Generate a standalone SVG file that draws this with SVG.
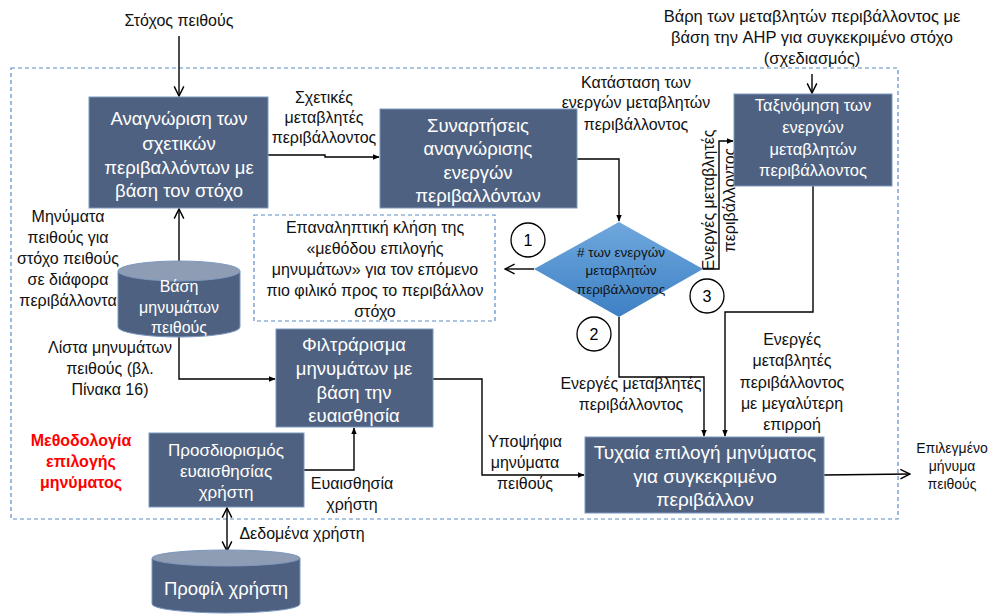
<svg xmlns="http://www.w3.org/2000/svg" width="990" height="615" viewBox="0 0 990 615">
  <style>
    text { font-family: "Liberation Sans", "Noto Sans", sans-serif; text-anchor: middle; }
    .lbl { font-size: 16px; fill: #111; }
    .box { fill: #4f6180; stroke: #7d98c0; stroke-width: 1; }
    .wt { fill: #ffffff; }
    .big { font-size: 18.5px; }
    .mid { font-size: 16.5px; }
    .wire { fill: none; stroke: #000; stroke-width: 1.4; }
    .dash { fill: none; stroke: #5b8dc4; stroke-width: 1.2; stroke-dasharray: 4 3; }
    .circ { fill: #fff; stroke: #000; stroke-width: 1.3; }
    .num { font-size: 16px; fill: #000; }
    .red { fill: #ff0000; font-weight: bold; font-size: 16px; }
  </style>
  <defs>
    <marker id="ah" viewBox="0 0 10 10" refX="9" refY="5" markerWidth="7" markerHeight="7" orient="auto-start-reverse" markerUnits="userSpaceOnUse">
      <path d="M0,1 L10,5 L0,9 Z" fill="#000"/>
    </marker>
    <marker id="open" viewBox="0 0 10 10" refX="9" refY="5" markerWidth="12" markerHeight="12" orient="auto-start-reverse" markerUnits="userSpaceOnUse">
      <path d="M1,1 L9,5 L1,9" fill="none" stroke="#000" stroke-width="1.2"/>
    </marker>
    <linearGradient id="dg" x1="0" y1="0" x2="0" y2="1">
      <stop offset="0" stop-color="#6fa8dd"/>
      <stop offset="1" stop-color="#3d80c4"/>
    </linearGradient>
  </defs>

  <!-- outer method boundary -->
  <rect class="dash" x="11" y="68" width="887" height="451"/>

  <!-- connectors -->
  <g id="connectors">
    <path class="wire" d="M179,36 V96" marker-end="url(#open)"/>
    <path class="wire" d="M812,74 V93" marker-end="url(#open)"/>
    <path class="wire" d="M268,155 H325 V157 H379" marker-end="url(#ah)"/>
    <path class="wire" d="M577,159 H619 V221" marker-end="url(#ah)"/>
    <path class="wire" d="M534,269 H505" marker-end="url(#open)"/>
    <path class="wire" d="M703,269 H719 V141 H733" marker-end="url(#ah)"/>
    <path class="wire" d="M813,186 V312 H725 V436" marker-end="url(#ah)"/>
    <path class="wire" d="M619,317 V377 H704 V436" marker-end="url(#ah)"/>
    <path class="wire" d="M179,262 V209" marker-end="url(#open)"/>
    <path class="wire" d="M179,337 V379 H275" marker-end="url(#ah)"/>
    <path class="wire" d="M304,470 H354 V428" marker-end="url(#ah)"/>
    <path class="wire" d="M433,379 H482 V475 H584" marker-end="url(#ah)"/>
    <path class="wire" d="M824,475 L910,474" marker-end="url(#open)"/>
    <path class="wire" d="M227,508 V551" marker-start="url(#open)" marker-end="url(#open)"/>
  </g>

  <!-- connector labels -->
  <g id="labels" class="lbl">
    <text x="179" y="26">Στόχος πειθούς</text>
    <text x="812" y="22" font-size="16.5">Βάρη των μεταβλητών περιβάλλοντος με</text>
    <text x="812" y="43" font-size="16.5">βάση την AHP για συγκεκριμένο στόχο</text>
    <text x="812" y="64" font-size="16.5">(σχεδιασμός)</text>
    <text x="324" y="103">Σχετικές</text>
    <text x="324" y="123">μεταβλητές</text>
    <text x="324" y="143">περιβάλλοντος</text>
    <text x="636" y="88">Κατάσταση των</text>
    <text x="636" y="108">ενεργών μεταβλητών</text>
    <text x="636" y="130">περιβάλλοντος</text>
    <text transform="translate(714,200) rotate(-90)">Ενεργές μεταβλητές</text>
    <text transform="translate(735,200) rotate(-90)">περιβάλλοντος</text>
    <text x="68" y="222">Μηνύματα</text>
    <text x="68" y="243">πειθούς για</text>
    <text x="68" y="264">στόχο πειθούς</text>
    <text x="68" y="285">σε διάφορα</text>
    <text x="68" y="306">περιβάλλοντα</text>
    <text x="110" y="353">Λίστα μηνυμάτων</text>
    <text x="110" y="374">πειθούς (βλ.</text>
    <text x="110" y="395">Πίνακα 16)</text>
    <text x="631" y="389">Ενεργές μεταβλητές</text>
    <text x="631" y="410">περιβάλλοντος</text>
    <text x="792" y="345">Ενεργές</text>
    <text x="792" y="366">μεταβλητές</text>
    <text x="792" y="388">περιβάλλοντος</text>
    <text x="792" y="409">με μεγαλύτερη</text>
    <text x="792" y="430">επιρροή</text>
    <text x="525" y="447">Υποψήφια</text>
    <text x="525" y="468">μηνύματα</text>
    <text x="525" y="489">πειθούς</text>
    <text x="352" y="489">Ευαισθησία</text>
    <text x="352" y="510">χρήστη</text>
    <text x="302" y="539">Δεδομένα χρήστη</text>
    <text x="952" y="453" font-size="14">Επιλεγμένο</text>
    <text x="952" y="471" font-size="14">μήνυμα</text>
    <text x="952" y="489" font-size="14">πειθούς</text>
    <text class="red" x="81" y="446">Μεθοδολογία</text>
    <text class="red" x="81" y="467">επιλογής</text>
    <text class="red" x="81" y="488">μηνύματος</text>
  </g>

  <!-- iteration note -->
  <g id="note" class="lbl">
    <rect class="dash" x="254" y="215" width="241" height="106"/>
    <text x="375" y="233">Επαναληπτική κλήση της</text>
    <text x="375" y="254">«μεθόδου επιλογής</text>
    <text x="375" y="275">μηνυμάτων» για τον επόμενο</text>
    <text x="375" y="296">πιο φιλικό προς το περιβάλλον</text>
    <text x="375" y="317">στόχο</text>
  </g>

  <g id="n-recognize">
    <rect class="box" x="89" y="97" width="179" height="111"/>
    <text class="wt big" x="179" y="124.5">Αναγνώριση των</text>
    <text class="wt big" x="179" y="149.5">σχετικών</text>
    <text class="wt big" x="179" y="173.5">περιβαλλόντων με</text>
    <text class="wt big" x="179" y="196.5">βάση τον στόχο</text>
  </g>

  <g id="n-functions">
    <rect class="box" x="380" y="109" width="197" height="99"/>
    <text class="wt big" x="478" y="131.5">Συναρτήσεις</text>
    <text class="wt big" x="478" y="154.5">αναγνώρισης</text>
    <text class="wt big" x="478" y="178.5">ενεργών</text>
    <text class="wt big" x="478" y="201.5">περιβαλλόντων</text>
  </g>

  <g id="n-ranking">
    <rect class="box" x="734" y="94" width="158" height="92"/>
    <text class="wt mid" x="813" y="111">Ταξινόμηση των</text>
    <text class="wt mid" x="813" y="133">ενεργών</text>
    <text class="wt mid" x="813" y="155">μεταβλητών</text>
    <text class="wt mid" x="813" y="176">περιβάλλοντος</text>
  </g>

  <g id="n-decision">
    <polygon points="619,222 703,269 619,317 534,269" fill="url(#dg)"/>
    <text x="621" y="257" font-size="13.5" fill="#111">#  των ενεργών</text>
    <text x="621" y="275" font-size="13.5" fill="#111">μεταβλητών</text>
    <text x="621" y="294" font-size="13.5" fill="#111">περιβάλλοντος</text>
  </g>

  <g id="n-case1">
    <circle class="circ" cx="528" cy="240" r="17"/>
    <text class="num" x="528" y="246">1</text>
  </g>
  <g id="n-case2">
    <circle class="circ" cx="594" cy="334" r="17"/>
    <text class="num" x="594" y="340">2</text>
  </g>
  <g id="n-case3">
    <circle class="circ" cx="707" cy="296" r="17"/>
    <text class="num" x="707" y="302">3</text>
  </g>

  <g id="n-msgdb">
    <path d="M118,271 V327 A61,10 0 0 0 240,327 V271 Z" fill="#4f6180" stroke="#7d98c0"/>
    <ellipse cx="179" cy="271" rx="61" ry="10" fill="#8e9cb4" stroke="#7d98c0"/>
    <text class="wt" font-size="16" x="179" y="292">Βάση</text>
    <text class="wt" font-size="16" x="179" y="313">μηνυμάτων</text>
    <text class="wt" font-size="16" x="179" y="333">πειθούς</text>
  </g>

  <g id="n-filter">
    <rect class="box" x="276" y="329" width="157" height="98"/>
    <text class="wt big" x="354" y="350.5">Φιλτράρισμα</text>
    <text class="wt big" x="354" y="374.5">μηνυμάτων με</text>
    <text class="wt big" x="354" y="398.5">βάση την</text>
    <text class="wt big" x="354" y="421.5">ευαισθησία</text>
  </g>

  <g id="n-sensitivity">
    <rect class="box" x="149" y="433" width="155" height="74"/>
    <text class="wt" font-size="17" x="226" y="456">Προσδιορισμός</text>
    <text class="wt" font-size="17" x="226" y="477">ευαισθησίας</text>
    <text class="wt" font-size="17" x="226" y="498">χρήστη</text>
  </g>

  <g id="n-random">
    <rect class="box" x="585" y="437" width="239" height="76"/>
    <text class="wt" font-size="19" x="705" y="458.5">Τυχαία επιλογή μηνύματος</text>
    <text class="wt" font-size="19" x="705" y="482.5">για συγκεκριμένο</text>
    <text class="wt" font-size="19" x="705" y="505.5">περιβάλλον</text>
  </g>

  <g id="n-profile">
    <path d="M152,558 V604 A74,9 0 0 0 300,604 V558 Z" fill="#4f6180" stroke="#7d98c0"/>
    <ellipse cx="226" cy="558" rx="74" ry="8" fill="#8e9cb4" stroke="#7d98c0"/>
    <text class="wt" font-size="18.5" x="226" y="594.5">Προφίλ χρήστη</text>
  </g>
</svg>
